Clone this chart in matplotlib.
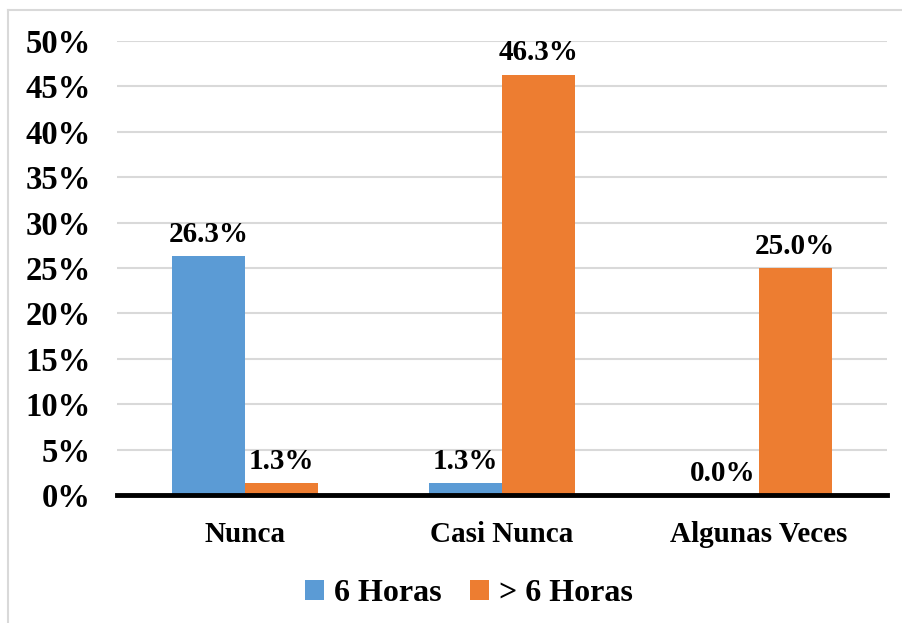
import matplotlib.pyplot as plt
import numpy as np
from matplotlib.lines import Line2D

plt.rcParams['font.family'] = ['Liberation Serif', 'DejaVu Serif']
plt.rcParams['font.weight'] = 'bold'

categorias = ['Nunca', 'Casi Nunca', 'Algunas Veces']
series = ['6 Horas', '> 6 Horas']
seis_horas = [26.3, 1.3, 0.0]
mas_seis = [1.3, 46.3, 25.0]
colores = ['#5B9BD5', '#ED7D31']

fig = plt.figure(figsize=(9.02, 6.23), dpi=100)
ax = fig.add_axes([0.1297, 0.2055, 0.8537, 0.7287])

x = np.arange(len(categorias))
w = 0.284
b1 = ax.bar(x - w / 2, seis_horas, w, color=colores[0], label=series[0], zorder=2)
b2 = ax.bar(x + w / 2, mas_seis, w, color=colores[1], label=series[1], zorder=2)

for bars, vals in ((b1, seis_horas), (b2, mas_seis)):
    for r, v in zip(bars, vals):
        ax.annotate(f'{v:.1f}%', (r.get_x() + r.get_width() / 2, v),
                    xytext=(0, 6), textcoords='offset points',
                    ha='center', va='bottom', fontsize=21, fontweight='bold')

ax.set_xlim(-0.5, 2.5)
ax.set_ylim(0, 50)
ax.set_yticks(np.arange(0, 51, 5))
ax.set_yticklabels([f'{t}%' for t in range(0, 51, 5)], fontsize=23.5, fontweight='bold')
ax.set_xticks(x)
ax.set_xticklabels(categorias, fontsize=21, fontweight='bold')
ax.tick_params(axis='both', length=0)
ax.tick_params(axis='y', pad=19)
ax.tick_params(axis='x', pad=19)

ax.grid(axis='y', color='#D9D9D9', linewidth=1.5, zorder=0)
for s in ['top', 'right', 'left']:
    ax.spines[s].set_visible(False)
ax.spines['bottom'].set_linewidth(3.5)
ax.spines['bottom'].set_color('black')
ax.spines['bottom'].set_zorder(3)

fig.legend(handles=[b1, b2], labels=series, loc='center',
           bbox_to_anchor=(0.520, 0.047), ncol=2, frameon=False,
           prop={'family': 'Liberation Serif', 'weight': 'bold', 'size': 23},
           handlelength=0.6, handleheight=0.6, handletextpad=0.3, columnspacing=0.9)

# marco del gráfico (solo borde superior e izquierdo visibles)
fig.add_artist(Line2D([8 / 902, 8 / 902], [0, 1 - 10 / 623], color='#D9D9D9', linewidth=1.5))
fig.add_artist(Line2D([8 / 902, 1], [1 - 10 / 623, 1 - 10 / 623], color='#D9D9D9', linewidth=1.5))

fig.savefig('out.png', dpi=100)
